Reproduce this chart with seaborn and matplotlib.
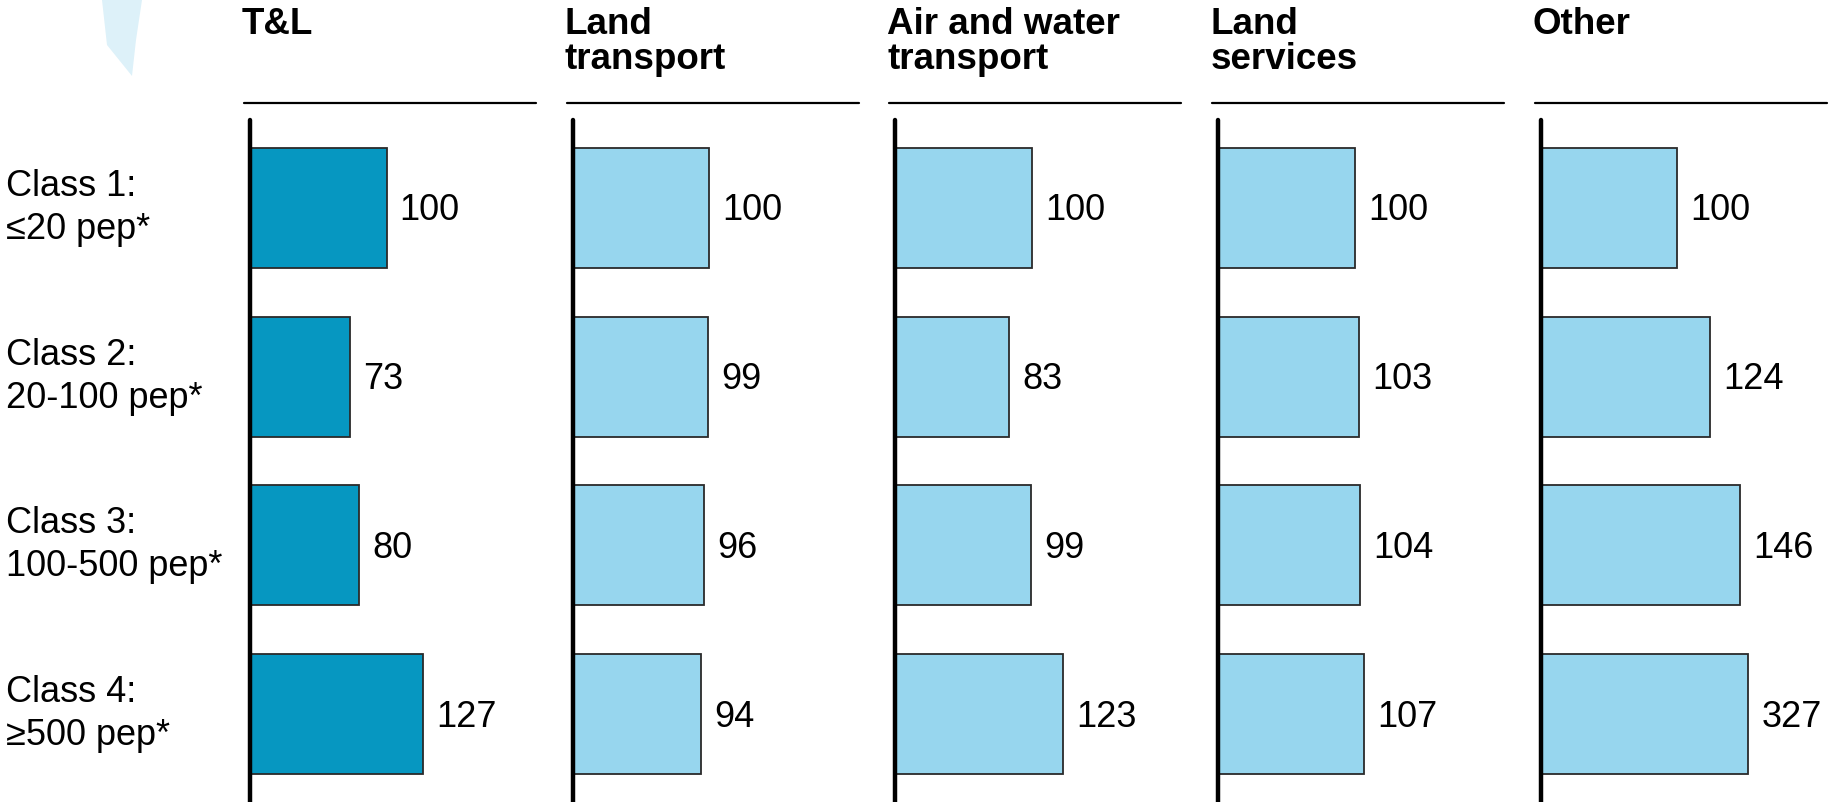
import numpy as np
import pandas as pd
import matplotlib
matplotlib.use("Agg")
import matplotlib.pyplot as plt
import matplotlib.transforms as mtransforms
from matplotlib.lines import Line2D
from matplotlib.patches import Polygon
import seaborn as sns

# Company size classes (rows)
classes = ["Class 1:\n≤20 pep*", "Class 2:\n20-100 pep*",
           "Class 3:\n100-500 pep*", "Class 4:\n≥500 pep*"]

# Segment headers (panels)
segments = ["T&L", "Land\ntransport", "Air and water\ntransport",
            "Land\nservices", "Other"]

# Index values per segment (Class 1 = 100)
tl_index = [100, 73, 80, 127]
land_transport_index = [100, 99, 96, 94]
air_water_index = [100, 83, 99, 123]
land_services_index = [100, 103, 104, 107]
other_index = [100, 124, 146, 327]

series = [tl_index, land_transport_index, air_water_index,
          land_services_index, other_index]

DARK_BLUE = "#0697C1"
LIGHT_BLUE = "#97D6EE"
EDGE = "#2a2a2a"

# bars longer than this are drawn truncated (broken scale)
BAR_CAP = 152

sns.set_theme(style="white")
plt.rcParams["font.family"] = ["Liberation Sans", "DejaVu Sans"]

W, H = 1831, 802
fig = plt.figure(figsize=(W / 100, H / 100), dpi=100)
fig.patch.set_facecolor("white")

# faint decorative shape in the top-left corner
shape_px = [(102, 0), (107, 45), (132, 76), (136, 40), (142, 0)]
fig.add_artist(Polygon([(x / W, 1 - y / H) for x, y in shape_px],
                       closed=True, facecolor="#DDF1F9", edgecolor="none",
                       transform=fig.transFigure, zorder=0))

px_per_unit = 1.365
ax_width_px = 286
ax_top_px = 120
panel_left0 = 250
panel_step = 322.75

axes = []
for i, (seg, vals) in enumerate(zip(segments, series)):
    left_px = panel_left0 + i * panel_step
    ax = fig.add_axes([left_px / W, 0, ax_width_px / W, (H - ax_top_px) / H])
    axes.append(ax)

    df = pd.DataFrame({"cls": classes,
                       "value": vals})
    df["shown"] = np.minimum(df["value"], BAR_CAP)

    sns.barplot(data=df, x="shown", y="cls", orient="h", ax=ax,
                color=DARK_BLUE if i == 0 else LIGHT_BLUE,
                saturation=1, edgecolor=EDGE, linewidth=1.3, width=0.71)

    ax.set_xlim(0, ax_width_px / px_per_unit)
    ax.set_ylim(3.52, -0.52)
    ax.set_xlabel("")
    ax.set_ylabel("")
    ax.set_xticks([])
    ax.set_yticks([])
    for sp in ax.spines.values():
        sp.set_visible(False)
    ax.patch.set_alpha(0)

    # baseline axis
    ax.axvline(0, color="black", lw=3.2, solid_capstyle="round",
               clip_on=False, zorder=5)

    # value labels
    for yi, (v, s) in enumerate(zip(df["value"], df["shown"])):
        ax.annotate(f"{v}", xy=(s, yi), xytext=(9.5, -2.2),
                    textcoords="offset points", ha="left", va="center",
                    fontsize=26, color="black")

    # header rule and title
    hdr_y = (H - 103) / (H - ax_top_px)
    ax.add_artist(Line2D([-6 / ax_width_px, 1.0], [hdr_y, hdr_y],
                         transform=ax.transAxes, color="black", lw=1.6,
                         clip_on=False))
    title_y = (H - 6.5) / (H - ax_top_px)
    ax.text(-8 / ax_width_px, title_y, seg, transform=ax.transAxes,
            ha="left", va="top", fontsize=26.5, fontweight="bold",
            linespacing=1.03, color="black")

# row labels at the left edge
trans = mtransforms.blended_transform_factory(fig.transFigure, axes[0].transData)
for yi, lab in enumerate(classes):
    axes[0].text(6 / W, yi, lab, transform=trans, ha="left", va="center",
                 fontsize=26, linespacing=1.3, color="black")

fig.savefig("out.png", dpi=100, facecolor="white")
